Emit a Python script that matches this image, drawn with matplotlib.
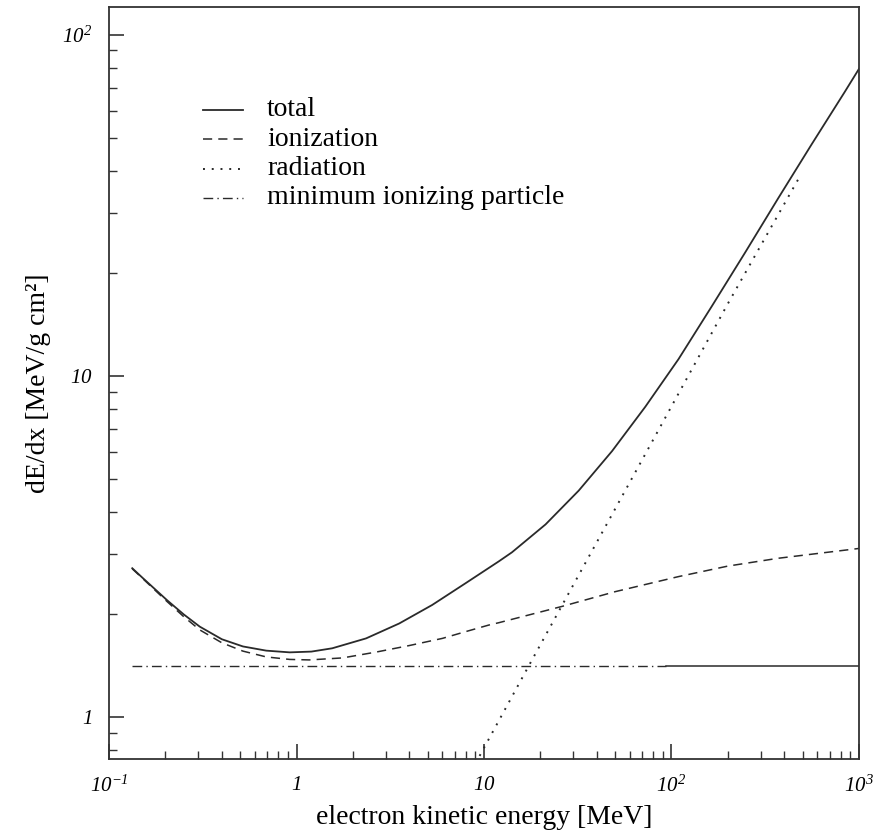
import numpy as np
import matplotlib.pyplot as plt
from matplotlib.ticker import FixedLocator, LogLocator, NullFormatter

plt.rcParams['font.family'] = 'Liberation Serif'
# tick labels in the original are italic, so math roman is italic here
plt.rcParams['mathtext.fontset'] = 'custom'
plt.rcParams['mathtext.rm'] = 'Liberation Serif:italic'
plt.rcParams['mathtext.it'] = 'Liberation Serif:italic'

# values (energy in MeV, dE/dx in MeV/g cm^2)
e_total = [0.133, 0.152, 0.204, 0.25, 0.305, 0.40, 0.518, 0.69, 0.92, 1.2, 1.55,
           2.35, 3.53, 5.29, 8.0, 12.0, 14.1, 21.3, 32.0, 48.2, 72.5, 109, 164,
           247, 371, 557, 839, 1000]
total = [2.73, 2.55, 2.20, 2.00, 1.84, 1.69, 1.61, 1.565, 1.547, 1.555, 1.59,
         1.70, 1.88, 2.13, 2.47, 2.86, 3.04, 3.67, 4.61, 6.02, 8.12, 11.2, 16.0,
         23.0, 33.2, 47.6, 68.0, 79.5]

e_ion = [0.133, 0.152, 0.204, 0.25, 0.305, 0.40, 0.518, 0.69, 0.92, 1.17, 1.76,
         2.66, 4.0, 6.0, 8.0, 10.6, 12.0, 26.1, 50, 109, 200, 371, 1000]
ionization = [2.72, 2.54, 2.18, 1.97, 1.80, 1.65, 1.56, 1.50, 1.475, 1.47, 1.49,
              1.55, 1.62, 1.70, 1.78, 1.86, 1.89, 2.11, 2.33, 2.58, 2.77, 2.92, 3.12]

e_rad = [9.0, 17.3, 72.5, 200, 483]
radiation = [0.73, 1.41, 5.9, 16.3, 38.4]

e_mip = [0.133, 93]
mip = [1.41, 1.41]
e_mip_tail = [93, 1000]

fig = plt.figure(figsize=(8.87, 8.36), dpi=100)
ax = fig.add_axes([0.1229, 0.0921, 0.8455, 0.8995])

col = '#2a2a2a'
ax.plot(e_total, total, color=col, lw=1.3, ls='-')
ax.plot(e_ion, ionization, color=col, lw=1.1, ls=(0, (6, 4)))
ax.plot(e_rad, radiation, color=col, lw=1.4, ls=(0, (1, 3.5)))
ax.plot(e_mip, mip, color=col, lw=1.0, ls=(0, (7, 3, 1, 3)))
ax.plot(e_mip_tail, mip, color=col, lw=1.1, ls='-')

ax.set_xscale('log')
ax.set_yscale('log')
ax.set_xlim(0.1, 1000)
ax.set_ylim(0.753, 120.7)

xt = [0.1, 1, 10, 100, 1000]
xl = [r'$10^{-1}$', r'$1$', r'$10$', r'$10^{2}$', r'$10^{3}$']
yt = [1, 10, 100]
yl = [r'$1$', r'$10$', r'$10^{2}$']
ax.xaxis.set_major_locator(FixedLocator(xt))
ax.set_xticklabels(xl)
ax.yaxis.set_major_locator(FixedLocator(yt))
ax.set_yticklabels(yl)
ax.xaxis.set_minor_locator(LogLocator(base=10, subs=np.arange(2, 10)))
ax.yaxis.set_minor_locator(LogLocator(base=10, subs=np.arange(2, 10)))
ax.xaxis.set_minor_formatter(NullFormatter())
ax.yaxis.set_minor_formatter(NullFormatter())

ax.tick_params(which='both', direction='in', top=False, right=False, color='#333333')
ax.tick_params(which='major', length=11, width=1.2, labelsize=15, pad=12)
ax.tick_params(which='minor', length=6, width=1.0)

for s in ax.spines.values():
    s.set_linewidth(1.3)
    s.set_color('#333333')

ax.set_xlabel('electron kinetic energy [MeV]', fontsize=20, labelpad=6)
ax.set_ylabel('dE/dx [MeV/g cm²]', fontsize=20, labelpad=8)

# legend drawn by hand like the original
leg = [('total', '-', 1.3), ('ionization', (0, (6, 4)), 1.1),
       ('radiation', (0, (1, 3.5)), 1.4), ('minimum ionizing particle', (0, (7, 3, 1, 3)), 1.0)]
for i, (name, ls, lw) in enumerate(leg):
    yy = 1 - (110 + 29.3 * i) / 836
    fig.add_artist(plt.Line2D([203 / 887, 243 / 887], [yy, yy], color=col, lw=lw, ls=ls))
    fig.text(267 / 887, yy, name, fontsize=20, va='center', ha='left')

fig.savefig('out.png', dpi=100)
